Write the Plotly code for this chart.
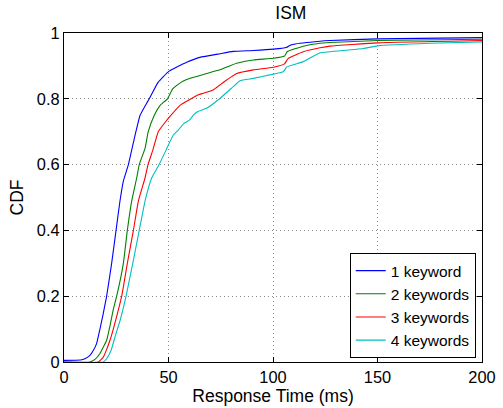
import plotly.graph_objects as go

# Response time (ms) / CDF readings for each series
x_k1 = [0, 8, 10, 12.4, 14, 15.6, 17.2, 18.8, 20.4, 22.8, 24.9, 26.8, 28.4, 30.8, 32.6, 34.4, 36.4, 38.5, 40.8, 45, 50.3, 58.7, 65, 74.6, 81, 90.6, 100.2, 106.4, 108, 110, 122.5, 127.3, 150, 200]
y_k1 = [0.005, 0.006, 0.01, 0.02, 0.035, 0.056, 0.1, 0.148, 0.2, 0.30, 0.4, 0.49, 0.55, 0.6, 0.65, 0.7, 0.75, 0.775, 0.8, 0.85, 0.884, 0.911, 0.926, 0.937, 0.944, 0.947, 0.951, 0.956, 0.962, 0.966, 0.975, 0.977, 0.982, 0.986]

x_k2 = [0, 12.4, 14.8, 17.2, 20.4, 22, 23.6, 25.2, 28.4, 30.3, 32.4, 34.8, 36, 38.8, 40.3, 43.2, 46, 49.5, 52, 56, 58.7, 66.7, 74.6, 82.6, 90.6, 100.2, 105.5, 106.8, 114.5, 122.5, 127.3, 150, 200]
y_k2 = [0.0, 0.0, 0.008, 0.026, 0.066, 0.11, 0.16, 0.2, 0.30, 0.4, 0.49, 0.56, 0.6, 0.65, 0.7, 0.75, 0.78, 0.8, 0.83, 0.85, 0.859, 0.874, 0.888, 0.908, 0.918, 0.923, 0.93, 0.943, 0.96, 0.969, 0.971, 0.977, 0.981]

x_k3 = [0, 16.4, 18.8, 20.5, 22, 24, 27.6, 30.3, 33.2, 35.6, 38.8, 40.2, 42.5, 45.1, 48.3, 50.5, 55.5, 60, 64.3, 66.7, 71.4, 74.6, 77.8, 82.6, 90.6, 100.2, 105.5, 107.3, 114.5, 122.5, 127.3, 150, 200]
y_k3 = [0.0, 0.0, 0.015, 0.04, 0.066, 0.11, 0.2, 0.30, 0.4, 0.49, 0.56, 0.6, 0.644, 0.7, 0.728, 0.745, 0.78, 0.797, 0.812, 0.817, 0.827, 0.842, 0.857, 0.877, 0.888, 0.896, 0.906, 0.923, 0.943, 0.955, 0.96, 0.97, 0.977]

x_k4 = [0, 18.8, 20.4, 22.5, 24.4, 27, 29.7, 32.9, 36, 38.8, 42, 45.5, 48.8, 52.3, 54.7, 57.5, 60, 62, 64.3, 68.2, 74.6, 81, 84.2, 90.6, 100.2, 104.9, 106.6, 114.5, 122.5, 127.3, 143.2, 150, 175, 200]
y_k4 = [0.0, 0.0, 0.01, 0.035, 0.076, 0.13, 0.2, 0.30, 0.4, 0.49, 0.56, 0.6, 0.644, 0.69, 0.705, 0.726, 0.735, 0.751, 0.762, 0.771, 0.801, 0.837, 0.855, 0.862, 0.875, 0.882, 0.897, 0.913, 0.94, 0.943, 0.953, 0.961, 0.969, 0.973]

series_names = ["1 keyword", "2 keywords", "3 keywords", "4 keywords"]
series_x = [x_k1, x_k2, x_k3, x_k4]
series_y = [y_k1, y_k2, y_k3, y_k4]
series_colors = ["#0000ff", "#008000", "#ff0000", "#00bfbf"]

x_ticks = [0, 50, 100, 150, 200]
y_ticks = [0, 0.2, 0.4, 0.6, 0.8, 1]
y_tick_text = ["0", "0.2", "0.4", "0.6", "0.8", "1"]

fig = go.Figure()
for name, xs, ys, col in zip(series_names, series_x, series_y, series_colors):
    fig.add_trace(go.Scatter(x=xs, y=ys, mode="lines", name=name,
                             line=dict(color=col, width=1.1, shape="spline", smoothing=0.4)))

FAM = "Liberation Sans, Arial, sans-serif"
tick_font = dict(family=FAM, size=16.4, color="black")
label_font = dict(family=FAM, size=17.5, color="black")
legend_font = dict(family=FAM, size=15.5, color="black")

axis_common = dict(showline=True, linecolor="black", linewidth=1.2, mirror="ticks",
                   ticks="inside", ticklen=5, tickcolor="black", tickwidth=1,
                   showgrid=True, gridcolor="#8a8a8a", griddash="1px,3px", gridwidth=1,
                   zeroline=False, tickfont=tick_font, automargin=False)

fig.update_layout(
    width=503, height=408,
    margin=dict(l=64, r=21, t=33, b=46),
    paper_bgcolor="white", plot_bgcolor="white",
    font=label_font,
    title=dict(text="ISM", x=(64 + 482) / 2 / 503, xanchor="center", xref="paper",
               y=1 - 13 / 408, yanchor="middle", yref="container", font=label_font),
    xaxis=dict(range=[0, 200], tickvals=x_ticks,
               title=dict(text="Response Time (ms)", standoff=3, font=label_font), **axis_common),
    yaxis=dict(range=[0, 1], tickvals=y_ticks, ticktext=y_tick_text,
               title=dict(text="CDF", standoff=8, font=label_font), **axis_common),
    legend=dict(x=0.985, y=0.012, xanchor="right", yanchor="bottom",
                bgcolor="white", bordercolor="black", borderwidth=1,
                font=legend_font, tracegroupgap=0, itemwidth=30),
    showlegend=True,
)

fig.write_html("out.html")
